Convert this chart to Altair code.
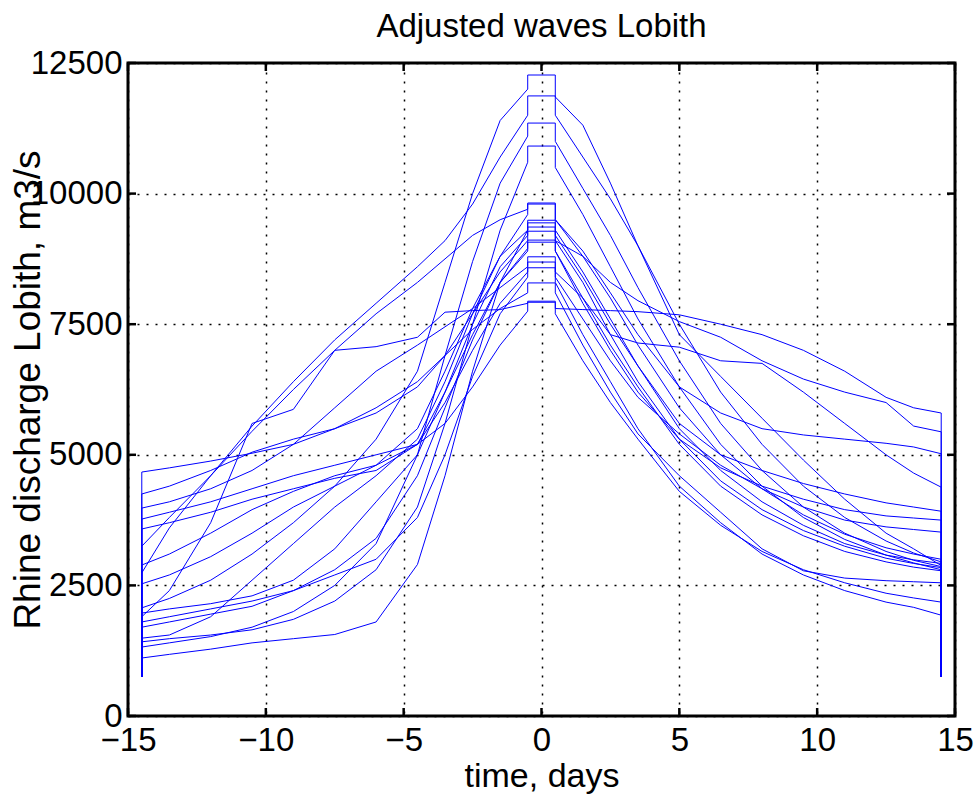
import altair as alt
import pandas as pd

# time grid (days) for the rising and falling limbs
X_RISE = [-14.5, -13.5, -12, -10.5, -9, -7.5, -6, -4.5, -3.5, -2.5, -1.5, -0.5]
X_FALL = [0.5, 1.5, 2.5, 3.5, 5, 6.5, 8, 9.5, 11, 12.5, 13.5, 14.5]
BASE_Q = 750  # discharge at both ends of every wave

# each wave: 12 rising values, the peak, 12 falling values (m3/s)
wave01 = [2070, 2250, 2600, 3100, 3700, 4400, 5300, 6600, 8300, 10000, 11400, 12000, 12270,
          11850, 11310, 10200, 9000, 7300, 6500, 5700, 4900, 4150, 3500, 3200, 2880]
wave02 = [2740, 3600, 4600, 5550, 6400, 7200, 7900, 8600, 9100, 9800, 10700, 11500, 11870,
          11500, 10700, 9900, 9000, 7500, 6200, 5200, 4400, 3800, 3350, 3120, 2950]
wave03 = [1320, 1400, 1520, 1700, 2000, 2500, 3300, 5000, 6900, 8700, 10200, 11100, 11350,
          11000, 10100, 9200, 8200, 6800, 5600, 4700, 4000, 3500, 3150, 2980, 2860]
wave04 = [1420, 1480, 1550, 1650, 1850, 2200, 2800, 4000, 5600, 7500, 9300, 10600, 10910,
          10500, 9600, 8600, 7600, 6300, 5200, 4400, 3800, 3380, 3080, 2930, 2800]
wave05 = [3250, 3800, 4600, 5450, 6250, 7000, 7700, 8300, 8750, 9200, 9500, 9700, 9820,
          9500, 8900, 8100, 7300, 6300, 5800, 5500, 5380, 5300, 5220, 5150, 5020]
wave06 = [1490, 1550, 1900, 2600, 3300, 4000, 4600, 5300, 6400, 7700, 8800, 9600, 9800,
          9500, 8800, 8000, 7100, 5900, 5000, 4350, 3850, 3480, 3220, 3100, 3000]
wave07 = [1110, 1180, 1280, 1400, 1480, 1560, 1800, 2900, 4600, 6600, 8300, 9300, 9490,
          9300, 8500, 7600, 6700, 5500, 4700, 4100, 3650, 3300, 3080, 2990, 2920]
wave08 = [2530, 2700, 3050, 3500, 4000, 4400, 4800, 5500, 6600, 7800, 8800, 9300, 9440,
          9200, 8400, 7500, 6700, 5600, 5000, 4700, 4450, 4250, 4080, 4000, 3920]
wave09 = [1970, 2050, 2150, 2300, 2600, 3200, 4100, 5000, 6200, 7500, 8600, 9200, 9360,
          9100, 8300, 7300, 6400, 5300, 4500, 3950, 3550, 3250, 3020, 2920, 2840]
wave10 = [4250, 4400, 4700, 5050, 5300, 5500, 5800, 6300, 6900, 7700, 8500, 9100, 9280,
          9100, 8800, 8300, 7950, 7550, 7250, 6800, 6450, 6200, 6000, 5550, 5440]
wave11 = [1700, 1800, 1950, 2100, 2400, 2800, 3400, 4600, 5900, 7200, 8300, 8950, 9110,
          8900, 8000, 7100, 6300, 5200, 4400, 3850, 3450, 3150, 2950, 2850, 2780]
wave12 = [3580, 3700, 3900, 4150, 4350, 4550, 4700, 5200, 6200, 7300, 8300, 8900, 9070,
          8900, 7900, 7000, 6200, 5300, 4750, 4400, 4150, 3950, 3830, 3790, 3750]
wave13 = [3980, 4100, 4350, 4700, 5200, 5900, 6600, 7100, 7450, 7800, 8200, 8600, 8790,
          8500, 8000, 7300, 7140, 7060, 6800, 6750, 6200, 5600, 5000, 4650, 4380]
wave14 = [2890, 3100, 3500, 3950, 4300, 4600, 4800, 5200, 6000, 7000, 7900, 8500, 8690,
          8400, 7600, 6800, 6100, 5400, 4800, 4350, 4000, 3750, 3620, 3570, 3520]
wave15 = [1800, 1900, 2050, 2200, 2400, 2700, 3000, 3800, 5000, 6500, 7700, 8400, 8580,
          8300, 7300, 6400, 5500, 4400, 3700, 3100, 2700, 2400, 2180, 2080, 1930]
wave16 = [4670, 4750, 4880, 5030, 5200, 5500, 5900, 6400, 6900, 7400, 7800, 8100, 8290,
          8100, 7100, 6200, 5400, 4600, 3900, 3200, 2780, 2640, 2590, 2570, 2550]
wave17 = [1900, 2400, 3700, 5600, 5870, 7000, 7070, 7250, 7730, 7760, 7780, 7900, 7940,
          7800, 7780, 7760, 7740, 7680, 7500, 7300, 7000, 6600, 6100, 5900, 5800]
wave18 = [3770, 3900, 4100, 4350, 4600, 4800, 5000, 5200, 5600, 6300, 7100, 7750, 7920,
          7700, 6800, 6000, 5300, 4300, 3650, 3150, 2800, 2550, 2350, 2260, 2180]

WAVES = [wave01, wave02, wave03, wave04, wave05, wave06, wave07, wave08, wave09,
         wave10, wave11, wave12, wave13, wave14, wave15, wave16, wave17, wave18]

X_TICKS = [-15, -10, -5, 0, 5, 10, 15]
Y_TICKS = [0, 2500, 5000, 7500, 10000, 12500]

rows = []
for k, w in enumerate(WAVES):
    n = len(X_RISE)
    rise, peak, fall = w[:n], w[n], w[n + 1:]
    pts = [(X_RISE[0], BASE_Q)] + list(zip(X_RISE, rise)) + [(X_RISE[-1], peak), (X_FALL[0], peak)] \
        + list(zip(X_FALL, fall)) + [(X_FALL[-1], BASE_Q)]
    for i, (t, q) in enumerate(pts):
        rows.append({"wave": k, "i": i, "t": t, "q": q})
df = pd.DataFrame(rows)

W, H = 827, 653
FONT = "Liberation Sans"
TICK_FS = 33

xscale = alt.Scale(domain=[-15, 15], nice=False, zero=False)
yscale = alt.Scale(domain=[0, 12500], nice=False)

lines = alt.Chart(df).mark_line(strokeWidth=1, color="#0000ff").encode(
    x=alt.X("t:Q", scale=xscale, axis=alt.Axis(
        values=X_TICKS, grid=True, gridDash=[2, 7], gridColor="black", gridOpacity=1, gridWidth=1.5,
        domain=False, ticks=False, labelFont=FONT, labelFontSize=TICK_FS, labelColor="black",
        labelPadding=8, labelFlush=False, labelOverlap=False,
        title="time, days", titleFont=FONT, titleFontSize=34, titleFontWeight="normal",
        titleColor="black", titleX=W / 2, titleY=70, titleBaseline="alphabetic", titleAnchor="middle")),
    y=alt.Y("q:Q", scale=yscale, axis=alt.Axis(
        values=Y_TICKS, grid=True, gridDash=[2, 7], gridColor="black", gridOpacity=1, gridWidth=1.5,
        domain=False, ticks=False, labelFont=FONT, labelFontSize=TICK_FS, labelColor="black",
        labelPadding=6, labelFlush=False, labelOverlap=False, format="d",
        title="Rhine discharge Lobith, m3/s", titleFont=FONT, titleFontSize=37,
        titleFontWeight="normal", titleColor="black", titleAngle=270, titleX=-100, titleY=H / 2,
        titleAlign="center", titleBaseline="middle")),
    detail="wave:N",
    order="i:Q",
)

xt = pd.DataFrame({"t": X_TICKS})
yt = pd.DataFrame({"q": Y_TICKS})
TL = 8
tick_bottom = alt.Chart(xt).mark_rule(color="black", strokeWidth=2.5).encode(
    x=alt.X("t:Q", scale=xscale), y=alt.value(H), y2=alt.value(H - TL))
tick_top = alt.Chart(xt).mark_rule(color="black", strokeWidth=2.5).encode(
    x=alt.X("t:Q", scale=xscale), y=alt.value(0), y2=alt.value(TL))
tick_left = alt.Chart(yt).mark_rule(color="black", strokeWidth=2.5).encode(
    y=alt.Y("q:Q", scale=yscale), x=alt.value(0), x2=alt.value(TL))
tick_right = alt.Chart(yt).mark_rule(color="black", strokeWidth=2.5).encode(
    y=alt.Y("q:Q", scale=yscale), x=alt.value(W), x2=alt.value(W - TL))

chart = alt.layer(lines, tick_bottom, tick_top, tick_left, tick_right).properties(
    width=W, height=H,
    title=alt.TitleParams("Adjusted waves Lobith", font=FONT, fontSize=33, fontWeight="normal",
                          color="black", anchor="middle", offset=3),
    autosize=alt.AutoSizeParams(type="none"),
    padding={"left": 128, "top": 63, "right": 20, "bottom": 80},
    background="white",
).configure_view(stroke="black", strokeWidth=3)

chart.save("out.html", embed_options={"renderer": "svg", "actions": False})
